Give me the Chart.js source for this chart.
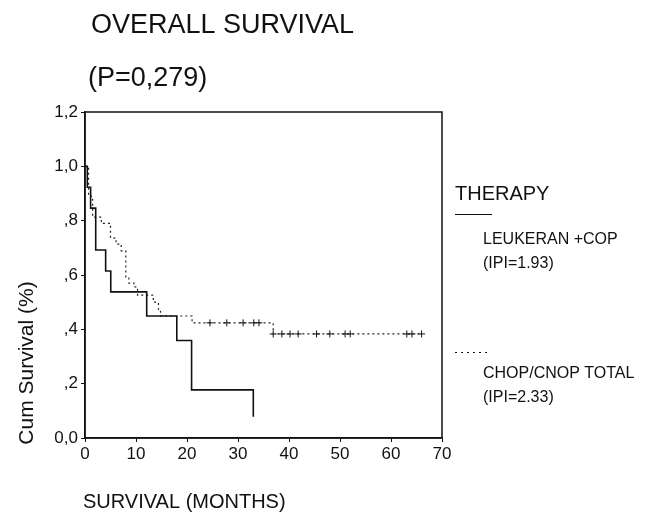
<!DOCTYPE html>
<html>
<head>
<meta charset="utf-8">
<script src="https://cdn.jsdelivr.net/npm/chart.js@4"></script>
<style>
  body { margin: 0; background: #fff; }
  canvas { display: block; }
</style>
</head>
<body>
<canvas id="kmChart" width="655" height="516"></canvas>
<script>
// Leukeran + COP (solid)
const solidMonths = [0, 0.45, 1.1, 2.1, 4.05, 5.05, 12.1, 18.0, 20.9, 33.0];
const solidSurv = [1.0, 0.923, 0.846, 0.692, 0.615, 0.538, 0.449, 0.359, 0.177, 0.078];

// CHOP/CNOP total (dotted)
const dotMonths = [0, 0.7, 1.5, 3.2, 5.0, 6.1, 7.1, 8.0, 8.6, 9.6, 10.3, 13.4, 14.4, 14.8, 21.0, 36.9, 66.0];
const dotSurv = [1.0, 0.89, 0.813, 0.79, 0.736, 0.714, 0.689, 0.589, 0.57, 0.556, 0.526, 0.50, 0.474, 0.449, 0.424, 0.383, 0.383];

// censored cases on the dotted curve
const censorMonths = [24.5, 27.8, 31.0, 33.1, 34.1, 36.9, 38.6, 40.2, 41.8, 45.4, 48.0, 51.0, 52.0, 63.1, 64.1, 66.0];
const censorSurv = [0.424, 0.424, 0.424, 0.424, 0.424, 0.383, 0.383, 0.383, 0.383, 0.383, 0.383, 0.383, 0.383, 0.383, 0.383, 0.383];

const xTicks = [0, 10, 20, 30, 40, 50, 60, 70];
const yTicks = [0, 0.2, 0.4, 0.6, 0.8, 1.0, 1.2];

const toPoints = (xs, ys) => xs.map((x, i) => ({ x: x, y: ys[i] }));

const FONT = '"Liberation Sans", Arial, sans-serif';

// y labels like SPSS: 0,0 ,2 ,4 ... 1,0 1,2
function yLabel(v) {
  let s = v.toFixed(1).replace('.', ',');
  if (s.startsWith('0,') && v !== 0) s = s.slice(1);
  return s;
}

const textPlugin = {
  id: 'textPlugin',
  afterDraw(chart) {
    const ctx = chart.ctx;
    const a = chart.chartArea;
    ctx.save();
    // frame
    ctx.strokeStyle = '#111';
    ctx.lineWidth = 1.5;
    ctx.strokeRect(a.left, a.top, a.right - a.left, a.bottom - a.top);

    ctx.fillStyle = '#111';
    ctx.textAlign = 'left';
    ctx.textBaseline = 'alphabetic';
    ctx.font = '27px ' + FONT;
    ctx.fillText('OVERALL SURVIVAL', 91, 33);
    ctx.fillText('(P=0,279)', 88, 86);

    ctx.font = '20px ' + FONT;
    ctx.fillText('SURVIVAL (MONTHS)', 83, 508);

    // y axis title
    ctx.save();
    ctx.translate(27, 363);
    ctx.rotate(-Math.PI / 2);
    ctx.textAlign = 'center';
    ctx.textBaseline = 'middle';
    ctx.font = '21px ' + FONT;
    ctx.fillText('Cum Survival (%)', 0, 0);
    ctx.restore();

    // legend
    ctx.font = '20px ' + FONT;
    ctx.fillText('THERAPY', 455, 200);
    ctx.lineWidth = 1;
    ctx.beginPath();
    ctx.moveTo(455, 214.5);
    ctx.lineTo(492, 214.5);
    ctx.stroke();
    ctx.setLineDash([2, 4]);
    ctx.beginPath();
    ctx.moveTo(455, 352.5);
    ctx.lineTo(490, 352.5);
    ctx.stroke();
    ctx.setLineDash([]);
    ctx.font = '16px ' + FONT;
    ctx.fillText('LEUKERAN +COP', 483, 244);
    ctx.fillText('(IPI=1.93)', 483, 268);
    ctx.fillText('CHOP/CNOP TOTAL', 483, 378);
    ctx.fillText('(IPI=2.33)', 483, 402);
    ctx.restore();
  }
};

const ctx = document.getElementById('kmChart').getContext('2d');
const kmChart = new Chart(ctx, {
  type: 'line',
  data: {
    datasets: [
      {
        label: 'LEUKERAN +COP',
        data: toPoints(solidMonths, solidSurv),
        borderColor: '#111',
        borderWidth: 1.6,
        stepped: 'before',
        pointRadius: 0,
        fill: false
      },
      {
        label: 'CHOP/CNOP TOTAL',
        data: toPoints(dotMonths, dotSurv),
        borderColor: '#222',
        borderWidth: 1.2,
        borderDash: [2, 3],
        stepped: 'before',
        pointRadius: 0,
        fill: false
      },
      {
        label: 'censored',
        data: toPoints(censorMonths, censorSurv),
        showLine: false,
        pointStyle: 'cross',
        pointRadius: 3.5,
        pointBorderWidth: 1,
        pointBorderColor: '#111'
      }
    ]
  },
  options: {
    responsive: false,
    animation: false,
    devicePixelRatio: 1,
    layout: { padding: { left: 0, top: 112, right: 213, bottom: 0 } },
    plugins: {
      legend: { display: false },
      tooltip: { enabled: false }
    },
    scales: {
      x: {
        type: 'linear',
        min: 0,
        max: 70,
        afterFit(scale) { scale.height = 78; },
        afterBuildTicks(scale) { scale.ticks = xTicks.map(v => ({ value: v })); },
        grid: { display: true, drawOnChartArea: false, drawTicks: true, tickLength: 4, color: '#111' },
        border: { display: true, color: '#111', width: 1.5 },
        ticks: { color: '#111', padding: 2, font: { family: FONT, size: 17 } }
      },
      y: {
        min: 0,
        max: 1.2,
        afterFit(scale) { scale.width = 85; },
        afterBuildTicks(scale) { scale.ticks = yTicks.map(v => ({ value: v })); },
        grid: { display: true, drawOnChartArea: false, drawTicks: true, tickLength: 4, color: '#111' },
        border: { display: true, color: '#111', width: 1.5 },
        ticks: {
          color: '#111',
          padding: 3,
          font: { family: FONT, size: 17 },
          callback: function (value) { return yLabel(value); }
        }
      }
    }
  },
  plugins: [textPlugin]
});
</script>
</body>
</html>
